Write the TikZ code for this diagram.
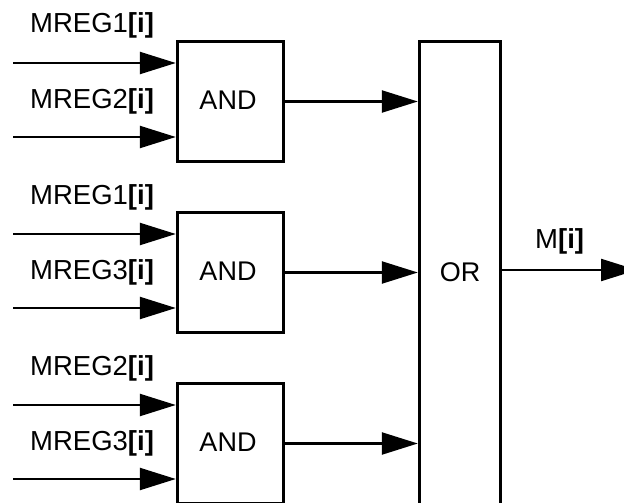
\documentclass[tikz,border=0pt]{standalone}
\usepackage{fontspec}
\setmainfont{Liberation Sans}
\usetikzlibrary{arrows.meta}
\begin{document}
\begin{tikzpicture}[x=1pt,y=-1pt,
  gate/.style={draw, line width=3.4pt, inner sep=0pt},
  andgate/.style={gate, minimum width=106pt, minimum height=120pt},
  gatetxt/.style={anchor=base, inner sep=0pt, font=\fontsize{27}{30}\selectfont},
  sig/.style={line width=2.3pt, -{Triangle[length=36pt,width=22pt]}},
  lbl/.style={anchor=base west, inner sep=0pt, font=\fontsize{27.5}{30}\selectfont}
]
\newcommand{\ix}{\textbf{[i]}}
\useasboundingbox (0,0) rectangle (624,503);
\clip (0,0) rectangle (624,503);

% OR gate, running past the lower edge
\node[gate, minimum width=81pt, minimum height=520pt] (or) at (460,301.5) {};
\node[gatetxt] (ortxt) at (460,281) {OR};

% three AND gates, 171pt apart
\foreach \k/\a/\b in {0/1/2, 1/1/3, 2/2/3}{
  \pgfmathsetmacro{\dy}{171*\k}
  \node[andgate] (and\k) at (230.5,101.5+\dy) {};
  \node[gatetxt] (andtxt\k) at (228,109+\dy) {AND};
  \node[lbl] (la\k) at (30,33+\dy) {MREG\a\ix};
  \node[lbl] (lb\k) at (30,108+\dy) {MREG\b\ix};
  \coordinate (ina\k) at (13,63+\dy);
  \coordinate (inb\k) at (13,137+\dy);
  \draw[sig] (ina\k) -- (ina\k -| and\k.west);
  \draw[sig] (inb\k) -- (inb\k -| and\k.west);
  \draw[sig] (and\k.east) -- (and\k.east -| or.west);
}

% output of the OR gate
\coordinate (out) at (637,270);
\draw[sig] (out -| or.east) -- (out);
\node[lbl] (mi) at (535,248) {M\ix};
\end{tikzpicture}
\end{document}
